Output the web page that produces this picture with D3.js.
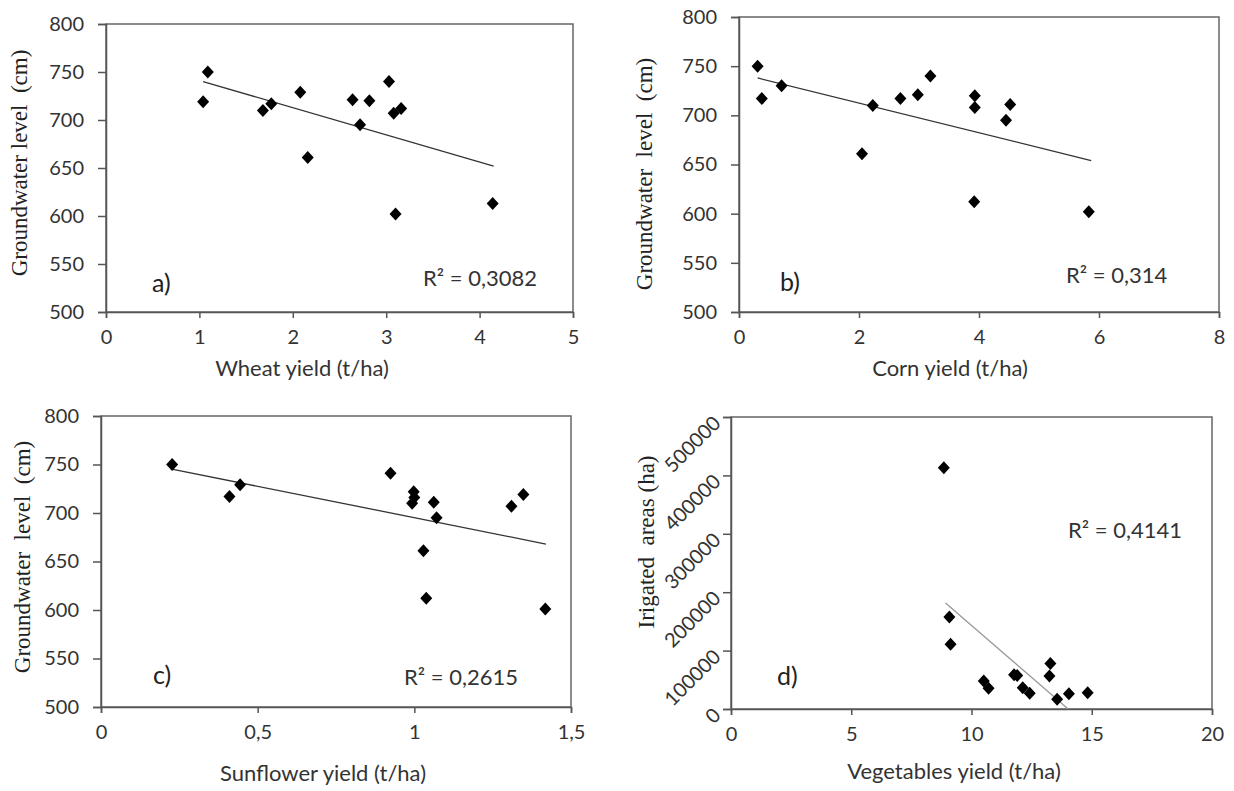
<!DOCTYPE html>
<html><head><meta charset="utf-8">
<script src="https://cdn.jsdelivr.net/npm/d3@7"></script>
<style>body{margin:0;background:#fff} svg{display:block}</style>
</head><body><svg id="chart" width="1234" height="791"></svg>
<script>
// ---------- data ----------
const wheatYield = [1.04,1.09,1.68,1.77,2.08,2.16,2.64,2.72,2.82,3.03,3.08,3.16,3.10,4.14];
const wheatGW    = [719,750,710,717,729,661,721,695,720,740,707,712,602,613];
const wheatTrendX = [1.04, 4.15];
const wheatTrendY = [740, 652];

const cornYield = [0.31,0.38,0.71,2.05,2.23,2.69,2.98,3.19,3.93,3.93,3.92,4.45,4.52,5.83];
const cornGW    = [750,717,730,661,710,717,721,740,720,708,612,695,711,602];
const cornTrendX = [0.31, 5.87];
const cornTrendY = [738, 654];

const sunYield = [0.227,0.41,0.444,0.924,0.998,1.0,0.993,1.062,1.071,1.029,1.038,1.31,1.348,1.418];
const sunGW    = [750,717,729,741,722,716,710,711,695,661,612,707,719,601];
const sunTrendX = [0.23, 1.42];
const sunTrendY = [745, 668];

const vegYield = [8.85,9.08,9.13,10.51,10.71,11.77,11.9,12.13,12.42,13.28,13.24,13.56,14.05,14.83];
const irrArea  = [413000,157500,111000,48000,35500,58500,57500,36500,27000,78000,56500,16500,26000,28000];
const vegTrendX = [8.92, 14.02];
const vegTrendY = [181500, 0];

const gwTicks    = [500,550,600,650,700,750,800];
const wheatTicks = [0,1,2,3,4,5];
const cornTicks  = [0,2,4,6,8];
const sunTicks   = [0,0.5,1,1.5];
const vegTicks   = [0,5,10,15,20];
const areaTicks  = [0,100000,200000,300000,400000,500000];

const xTitles = ["Wheat yield (t/ha)","Corn yield (t/ha)","Sunflower yield (t/ha)","Vegetables yield (t/ha)"];
const yTitles = ["Groundwater level  (cm)","Groundwater  level  (cm)","Groundwater  level  (cm)","Irigated  areas (ha)"];
const letters = ["a)","b)","c)","d)"];
const r2Labels = ["R\u00b2 = 0,3082","R\u00b2 = 0,314","R\u00b2 = 0,2615","R\u00b2 = 0,4141"];

// ---------- layout ----------
const fmt = d3.formatLocale({decimal:",",thousands:"",grouping:[3],currency:["",""]}).format("~g");
const SANS = "Lato, 'Noto Sans', sans-serif";
const SERIF = "'Liberation Serif', 'DejaVu Serif', serif";

const panels = [
  {xs:wheatYield, ys:wheatGW, tx:wheatTrendX, ty:wheatTrendY, xDom:[0,5], yDom:[500,800], xt:wheatTicks, yt:gwTicks,
   box:{l:106,r:573,t:24,b:312}, yT:{x:27,y:163}, xT:{x:302,y:376}, let:{x:152,y:292}, r2:{x:423,y:286}, trendColor:"#333", rotY:false},
  {xs:cornYield, ys:cornGW, tx:cornTrendX, ty:cornTrendY, xDom:[0,8], yDom:[500,800], xt:cornTicks, yt:gwTicks,
   box:{l:739,r:1219,t:17,b:312}, yT:{x:652,y:174}, xT:{x:950,y:376}, let:{x:780,y:291}, r2:{x:1066,y:283}, trendColor:"#333", rotY:false},
  {xs:sunYield, ys:sunGW, tx:sunTrendX, ty:sunTrendY, xDom:[0,1.5], yDom:[500,800], xt:sunTicks, yt:gwTicks,
   box:{l:101,r:571,t:416,b:707}, yT:{x:30,y:557}, xT:{x:323,y:781}, let:{x:153,y:684}, r2:{x:404,y:685}, trendColor:"#333", rotY:false},
  {xs:vegYield, ys:irrArea, tx:vegTrendX, ty:vegTrendY, xDom:[0,20], yDom:[0,500000], xt:vegTicks, yt:areaTicks,
   box:{l:731,r:1212,t:417,b:709}, yT:{x:654,y:542}, xT:{x:954,y:779}, let:{x:777,y:685}, r2:{x:1068,y:538}, trendColor:"#999", rotY:true}
];

const svg = d3.select("#chart");
svg.append("rect").attr("width",1234).attr("height",791).attr("fill","#fff");

panels.forEach((p,i)=>{
  const x = d3.scaleLinear().domain(p.xDom).range([p.box.l,p.box.r]);
  const y = d3.scaleLinear().domain(p.yDom).range([p.box.b,p.box.t]);
  const g = svg.append("g");

  // frame
  g.append("rect").attr("x",p.box.l).attr("y",p.box.t)
    .attr("width",p.box.r-p.box.l).attr("height",p.box.b-p.box.t)
    .attr("fill","none").attr("stroke","#666").attr("stroke-width",1.5);

  // x axis
  const xa = g.append("g").attr("transform",`translate(0,${p.box.b})`)
    .call(d3.axisBottom(x).tickValues(p.xt).tickFormat(fmt).tickSize(6).tickPadding(12));
  xa.select(".domain").attr("stroke","#555").attr("stroke-width",1.5);
  xa.selectAll(".tick line").attr("stroke","#555").attr("stroke-width",1.5);
  xa.selectAll("text").attr("font-family",SANS).attr("font-size",20).attr("fill","#333");

  // y axis
  const ya = g.append("g").attr("transform",`translate(${p.box.l},0)`)
    .call(d3.axisLeft(y).tickValues(p.yt).tickFormat(fmt).tickSize(8).tickPadding(14));
  ya.select(".domain").attr("stroke","#555").attr("stroke-width",1.5);
  ya.selectAll(".tick line").attr("stroke","#555").attr("stroke-width",1.5);
  ya.selectAll("text").attr("font-family",SANS).attr("font-size",20).attr("fill","#333");
  if (p.rotY) {
    ya.selectAll(".tick text").attr("x",null).attr("dy",null)
      .attr("transform","translate(-14,2) rotate(-45)").attr("dy","0.35em").attr("text-anchor","end");
  }

  // trend line
  g.append("line")
    .attr("x1",x(p.tx[0])).attr("y1",y(p.ty[0]))
    .attr("x2",x(p.tx[1])).attr("y2",y(p.ty[1]))
    .attr("stroke",p.trendColor).attr("stroke-width",1.3);

  // points
  g.selectAll("path.pt").data(p.xs.map((v,k)=>[v,p.ys[k]])).join("path")
    .attr("class","pt")
    .attr("d","M0,-6.5L6,0L0,6.5L-6,0Z")
    .attr("transform",d=>`translate(${x(d[0])},${y(d[1])})`)
    .attr("fill","#000");

  // titles
  g.append("text").attr("transform",`translate(${p.yT.x},${p.yT.y}) rotate(-90)`)
    .attr("text-anchor","middle").attr("font-family",SERIF).attr("font-size",23)
    .attr("fill","#222").style("white-space","pre").text(yTitles[i]);
  g.append("text").attr("x",p.xT.x).attr("y",p.xT.y).attr("text-anchor","middle")
    .attr("font-family",SANS).attr("font-size",22).attr("fill","#333").text(xTitles[i]);
  g.append("text").attr("x",p.let.x).attr("y",p.let.y)
    .attr("font-family",SANS).attr("font-size",25).attr("fill","#222").text(letters[i]);
  g.append("text").attr("x",p.r2.x).attr("y",p.r2.y)
    .attr("font-family",SANS).attr("font-size",22).attr("fill","#333").text(r2Labels[i]);
});
</script></body></html>
